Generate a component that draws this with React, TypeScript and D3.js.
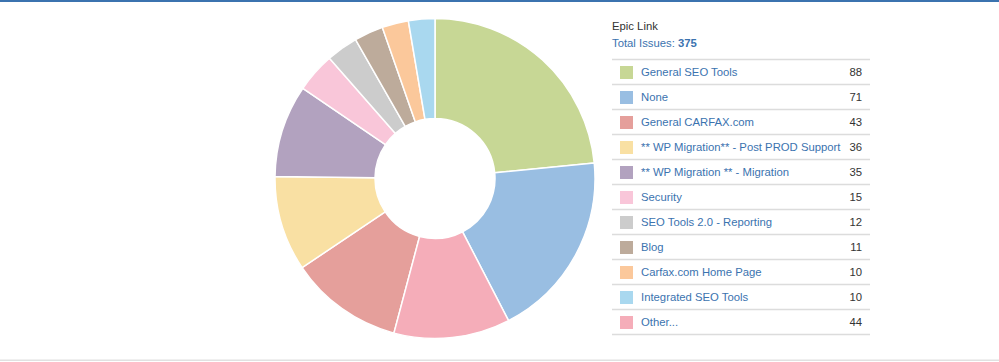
import { useEffect, useRef } from "react";
import * as d3 from "d3";

const categories = [
    "General SEO Tools",
    "None",
    "General CARFAX.com",
    "** WP Migration** - Post PROD Support",
    "** WP Migration ** - Migration",
    "Security",
    "SEO Tools 2.0 - Reporting",
    "Blog",
    "Carfax.com Home Page",
    "Integrated SEO Tools",
    "Other...",
];
const issues = [88, 71, 43, 36, 35, 15, 12, 11, 10, 10, 44];
const colors = [
    "#c7d795",
    "#99bee2",
    "#e59f9b",
    "#f9e0a3",
    "#b2a2bf",
    "#f9c6d9",
    "#cccccc",
    "#bdab9b",
    "#fbc89b",
    "#a9d8ef",
    "#f5adb9",
];
const fieldName = "Epic Link";
const totalIssues = 375;

interface Slice {
    name: string;
    value: number;
    color: string;
}

export default function App() {
    const ref = useRef<SVGSVGElement | null>(null);

    useEffect(() => {
        if (!ref.current) return;
        const width = 999;
        const height = 362;
        const cx = 435;
        const cy = 178.5;
        const radius = 160;
        const inner = 60;

        const svg = d3.select(ref.current);
        svg.selectAll("*").remove();
        svg.attr("width", width).attr("height", height);

        svg.append("rect").attr("width", width).attr("height", height).attr("fill", "#fff");
        // frame lines
        svg.append("rect").attr("x", 0).attr("y", 0).attr("width", width).attr("height", 2).attr("fill", "#3b73af");
        svg.append("rect").attr("x", 0).attr("y", 359.5).attr("width", width).attr("height", 1.5).attr("fill", "#e1e1e1");

        const data: Slice[] = categories.map((name, i) => ({ name, value: issues[i], color: colors[i] }));

        const pie = d3.pie<Slice>()
            .value((d) => d.value)
            .sort((a, b) => b.value - a.value);
        const arc = d3.arc<d3.PieArcDatum<Slice>>().innerRadius(inner).outerRadius(radius);

        const g = svg.append("g").attr("transform", `translate(${cx},${cy})`);
        g.selectAll("path")
            .data(pie(data))
            .join("path")
            .attr("d", arc)
            .attr("fill", (d) => d.data.color)
            .attr("stroke", "#fff")
            .attr("stroke-width", 1.5)
            .attr("stroke-linejoin", "round");

        // legend
        const font = "Arial, 'Liberation Sans', Helvetica, sans-serif";
        const fs = 11.3;
        const lx = 612;
        const tableRight = 870;
        svg.append("text")
            .attr("x", lx).attr("y", 29.5)
            .attr("font-family", font).attr("font-size", fs)
            .attr("fill", "#333").text(fieldName);
        const total = svg.append("text")
            .attr("x", lx).attr("y", 47)
            .attr("font-family", font).attr("font-size", fs)
            .attr("fill", "#3b73af");
        total.append("tspan").text("Total Issues: ");
        total.append("tspan").attr("font-weight", "bold").text(String(totalIssues));

        const rowH = 25;
        const top = 59.5;
        const rows = svg.append("g").attr("font-family", font).attr("font-size", fs);
        svg.append("line")
            .attr("x1", lx).attr("x2", tableRight)
            .attr("y1", top).attr("y2", top)
            .attr("stroke", "#dcdcdc").attr("stroke-width", 1.5);
        data.forEach((d, i) => {
            const y = top + i * rowH;
            rows.append("rect")
                .attr("x", 620).attr("y", y + 6.5)
                .attr("width", 13).attr("height", 13)
                .attr("fill", d.color);
            rows.append("text")
                .attr("x", 641).attr("y", y + 16.5)
                .attr("fill", "#3b73af").text(d.name);
            rows.append("text")
                .attr("x", 862).attr("y", y + 16.5)
                .attr("text-anchor", "end")
                .attr("fill", "#333").text(d.value);
            rows.append("line")
                .attr("x1", lx).attr("x2", tableRight)
                .attr("y1", y + rowH).attr("y2", y + rowH)
                .attr("stroke", "#dcdcdc").attr("stroke-width", 1.5);
        });
    }, []);

    return (
        <svg
            ref={(el) => { if (el) ref.current = el; }}
            style={{ position: "absolute", left: 0, top: 0, display: "block" }}
        />
    );
}
